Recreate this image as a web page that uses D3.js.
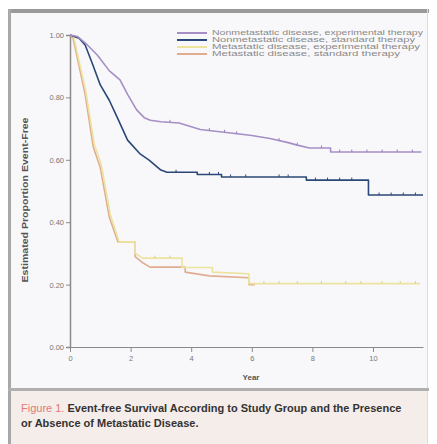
<!DOCTYPE html>
<html lang="en">
<head>
<meta charset="UTF-8">
<title>Event-free Survival</title>
<style>
    body { margin: 0; padding: 0; background: #fff; font-family: "Liberation Sans", Arial, sans-serif; }
    svg { display: block; }
    .axis path, .axis line { stroke: #8a8a8a; }
    .axis text { fill: #777; font-size: 7.5px; }
</style>
</head>
<body>
<svg id="chart" width="437" height="444"></svg>
<script src="https://cdnjs.cloudflare.com/ajax/libs/d3/7.9.0/d3.min.js"></script>
<script>
// curve data: [year, proportion event-free]; repeated years mark a drop
const nonmetExperimental = [[0,1],[0.25,0.995],[0.5,0.975],[0.9,0.936],[1.3,0.885],[1.65,0.856],[1.9,0.81],[2.2,0.76],[2.45,0.735],[2.65,0.727],[3.0,0.722],[3.6,0.718],[4.3,0.697],[5.3,0.686],[6.0,0.678],[6.6,0.668],[7.2,0.655],[7.5,0.647],[7.9,0.638],[8.6,0.638],[8.6,0.625],[11.6,0.625]];
const nonmetStandard = [[0,1],[0.3,0.99],[0.5,0.968],[0.73,0.91],[1.0,0.84],[1.3,0.79],[1.6,0.727],[1.9,0.663],[2.3,0.62],[2.6,0.6],[3.0,0.567],[3.2,0.56],[4.2,0.56],[4.2,0.553],[5.0,0.553],[5.0,0.545],[7.8,0.545],[7.8,0.535],[9.85,0.535],[9.85,0.487],[11.65,0.487]];
const metExperimental = [[0,1],[0.12,0.995],[0.52,0.82],[0.8,0.65],[1.03,0.585],[1.33,0.425],[1.62,0.337],[2.15,0.337],[2.15,0.3],[2.4,0.285],[3.7,0.285],[3.7,0.255],[4.7,0.255],[4.7,0.24],[5.9,0.235],[5.9,0.203],[11.55,0.203]];
const metStandard = [[0,1],[0.1,0.99],[0.5,0.81],[0.77,0.64],[1.0,0.575],[1.3,0.415],[1.58,0.337],[2.15,0.337],[2.15,0.29],[2.4,0.27],[2.64,0.256],[3.8,0.256],[3.8,0.24],[4.6,0.228],[5.9,0.222],[5.9,0.2],[6.1,0.2]];

// censoring marks (years)
const censorNonmetExp = [3.3,4.6,5.1,5.5,6.9,7.5,8.3,8.9,9.3,9.8,10.3,10.8,11.3];
const censorNonmetStd = [3.5,4.6,4.9,5.3,5.8,6.9,7.2,8.1,8.5,8.9,9.3,10.2,10.6,11.0,11.4];
const censorMetExp = [2.8,3.3,6.4,6.9,7.5,8.3,9.1,9.6,10.3,10.9,11.4];

const seriesNames = ["Nonmetastatic disease, experimental therapy", "Nonmetastatic disease, standard therapy", "Metastatic disease, experimental therapy", "Metastatic disease, standard therapy"];
const seriesColors = ["#a58fc6", "#2a4877", "#ece39f", "#e0ad90"];
const legendWidths = [211, 203, 208, 188];
const yTicks = [0, 0.2, 0.4, 0.6, 0.8, 1.0];
const xTicks = [0, 2, 4, 6, 8, 10];

const svg = d3.select("#chart");

// panel + caption background
svg.append("rect").attr("x", 9).attr("y", 10).attr("width", 419).attr("height", 380).attr("fill", "#f8f8fa");
svg.append("rect").attr("x", 9).attr("y", 391).attr("width", 419).attr("height", 53).attr("fill", "#f5ede9");
svg.append("rect").attr("x", 8).attr("y", 9).attr("width", 421).attr("height", 4).attr("fill", "#9a9a9a");
svg.append("rect").attr("x", 8).attr("y", 9).attr("width", 3).attr("height", 435).attr("fill", "#a8a8a8");
svg.append("rect").attr("x", 427).attr("y", 9).attr("width", 1).attr("height", 435).attr("fill", "#dddddd");
svg.append("rect").attr("x", 8).attr("y", 388).attr("width", 421).attr("height", 3).attr("fill", "#b0b0b0");

const x = d3.scaleLinear().domain([0, 11.65]).range([70, 423]);
const y = d3.scaleLinear().domain([0, 1]).range([347, 35]);

svg.append("g").attr("class", "axis")
    .attr("transform", "translate(70,0)")
    .call(d3.axisLeft(y).tickValues(yTicks).tickFormat(d3.format(".2f")).tickSize(4).tickPadding(2))
    .call(g => g.select(".domain").attr("stroke-width", 1.5));

svg.append("g").attr("class", "axis")
    .attr("transform", "translate(0,347)")
    .call(d3.axisBottom(x).tickValues(xTicks).tickSize(5).tickPadding(4).tickSizeOuter(0))
    .call(g => g.select(".domain").attr("stroke-width", 1.2));

const line = d3.line().x(d => x(d[0])).y(d => y(d[1]));

const curves = [metStandard, metExperimental, nonmetStandard, nonmetExperimental];
const curveColors = [seriesColors[3], seriesColors[2], seriesColors[1], seriesColors[0]];

svg.selectAll(".km")
    .data(curves)
    .enter().append("path")
    .attr("class", "km")
    .attr("d", line)
    .attr("fill", "none")
    .attr("stroke", (d, i) => curveColors[i])
    .attr("stroke-width", 1.6)
    .attr("stroke-linejoin", "round");

function valueAt(data, t) {
    for (let i = data.length - 1; i > 0; i--) {
        const a = data[i - 1], b = data[i];
        if (t >= a[0] && t <= b[0]) {
            return b[0] === a[0] ? b[1] : a[1] + (b[1] - a[1]) * (t - a[0]) / (b[0] - a[0]);
        }
    }
    return data[data.length - 1][1];
}

[[censorNonmetExp, nonmetExperimental, "#9880bb"],
 [censorNonmetStd, nonmetStandard, seriesColors[1]],
 [censorMetExp, metExperimental, "#d8cf8a"]].forEach(([marks, data, col]) => {
    svg.append("g").selectAll("line")
        .data(marks)
        .enter().append("line")
        .attr("x1", d => x(d)).attr("x2", d => x(d))
        .attr("y1", d => y(valueAt(data, d)) - 2.5)
        .attr("y2", d => y(valueAt(data, d)))
        .attr("stroke", col)
        .attr("stroke-width", 1);
});

// legend
const legend = svg.append("g").selectAll("g")
    .data(seriesNames)
    .enter().append("g")
    .attr("transform", (d, i) => `translate(177,${33 + i * 7})`);

legend.append("line")
    .attr("x1", 0).attr("x2", 30)
    .attr("stroke", (d, i) => seriesColors[i])
    .attr("stroke-width", 2);

legend.append("text")
    .attr("x", 35).attr("y", 2.4)
    .attr("fill", "#8a8a8a")
    .attr("textLength", (d, i) => legendWidths[i])
    .attr("lengthAdjust", "spacingAndGlyphs")
    .style("font-size", "7px")
    .text(d => d);

// axis titles
svg.append("text")
    .attr("x", 251).attr("y", 380)
    .attr("text-anchor", "middle")
    .attr("fill", "#555")
    .style("font-size", "8px").style("font-weight", "bold")
    .text("Year");

svg.append("text")
    .attr("transform", "translate(28,200) rotate(-90)")
    .attr("text-anchor", "middle")
    .attr("fill", "#555")
    .attr("textLength", 165)
    .attr("lengthAdjust", "spacingAndGlyphs")
    .style("font-size", "8.5px").style("font-weight", "bold")
    .text("Estimated Proportion Event-Free");

// caption
const cap = svg.append("text")
    .attr("x", 21).attr("y", 412)
    .style("font-size", "11px").style("font-weight", "bold")
    .attr("fill", "#333");
cap.append("tspan").attr("fill", "#e07a7a").style("font-weight", "normal").text("Figure 1. ");
cap.append("tspan").text("Event-free Survival According to Study Group and the Presence");

svg.append("text")
    .attr("x", 21).attr("y", 427)
    .style("font-size", "11px").style("font-weight", "bold")
    .attr("fill", "#333")
    .text("or Absence of Metastatic Disease.");
</script>
</body>
</html>
